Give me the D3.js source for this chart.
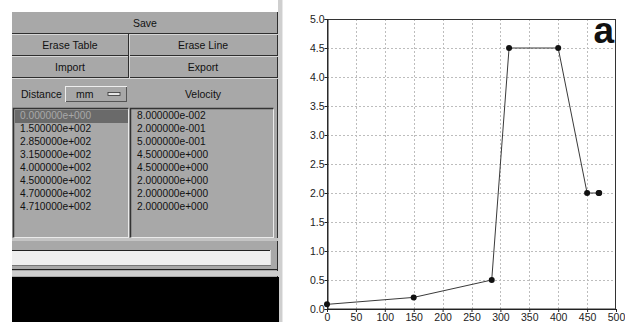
<!DOCTYPE html>
<html><head><meta charset="utf-8">
<script src="https://cdn.jsdelivr.net/npm/d3@7"></script>
<style>
html,body{margin:0;padding:0;background:#fff;}
svg{display:block;}
text{font-family:"Liberation Sans",Arial,sans-serif;}
</style></head>
<body>
<svg id="c" width="625" height="322"></svg>
<script>
// ---- data ----
const distance = [0, 150, 285, 315, 400, 450, 470, 471];
const velocity = [0.08, 0.2, 0.5, 4.5, 4.5, 2.0, 2.0, 2.0];
const xTicks = [0, 50, 100, 150, 200, 250, 300, 350, 400, 450, 500];
const yTicks = [0, 0.5, 1.0, 1.5, 2.0, 2.5, 3.0, 3.5, 4.0, 4.5, 5.0];
const buttonRows = [["Save"], ["Erase Table", "Erase Line"], ["Import", "Export"]];
const unitLabel = "mm";
const panelLabel = "a";

const svg = d3.select("#c");

// ---- left GUI panel ----
const gray = "#a8a8a8", dark = "#2e2e2e";
const P = {x0: 12, x1: 278, mid: 128};
const g = svg.append("g");
g.append("rect").attr("x", P.x0).attr("y", 12).attr("width", P.x1 - P.x0).attr("height", 265).attr("fill", gray);
g.append("rect").attr("x", P.x1).attr("y", 0).attr("width", 5).attr("height", 322).attr("fill", "#cfcfcf");
g.append("line").attr("x1", P.x1 - 0.5).attr("x2", P.x1 - 0.5).attr("y1", 12).attr("y2", 322).attr("stroke", dark);
g.append("line").attr("x1", P.x1 + 4.5).attr("x2", P.x1 + 4.5).attr("y1", 0).attr("y2", 322).attr("stroke", "#e8e8e8");

const btnFont = 10.5;
const rowY = [12, 34, 56, 78];
buttonRows.forEach((row, i) => {
  const y0 = rowY[i], y1 = rowY[i + 1];
  g.append("line").attr("x1", P.x0).attr("x2", P.x1).attr("y1", y1 - 0.5).attr("y2", y1 - 0.5).attr("stroke", dark);
  g.append("line").attr("x1", P.x0).attr("x2", P.x1).attr("y1", y1 + 0.5).attr("y2", y1 + 0.5).attr("stroke", "#d6d6d6");
  if (row.length === 1) {
    g.append("text").attr("x", (P.x0 + P.x1) / 2).attr("y", (y0 + y1) / 2 + 4).attr("text-anchor", "middle")
      .attr("font-size", btnFont).attr("fill", "#111").text(row[0]);
  } else {
    g.append("line").attr("x1", P.mid + 0.5).attr("x2", P.mid + 0.5).attr("y1", y0).attr("y2", y1).attr("stroke", dark);
    g.append("line").attr("x1", P.mid + 1.5).attr("x2", P.mid + 1.5).attr("y1", y0).attr("y2", y1).attr("stroke", "#d6d6d6");
    g.append("text").attr("x", (P.x0 + P.mid) / 2).attr("y", (y0 + y1) / 2 + 4).attr("text-anchor", "middle")
      .attr("font-size", btnFont).attr("fill", "#111").text(row[0]);
    g.append("text").attr("x", (P.mid + P.x1) / 2).attr("y", (y0 + y1) / 2 + 4).attr("text-anchor", "middle")
      .attr("font-size", btnFont).attr("fill", "#111").text(row[1]);
  }
});
// header row
g.append("text").attr("x", 21).attr("y", 98).attr("font-size", btnFont).attr("fill", "#111").text("Distance");
g.append("rect").attr("x", 65.5).attr("y", 86.5).attr("width", 61).attr("height", 15).attr("fill", gray)
  .attr("stroke", "#eee");
g.append("line").attr("x1", 66).attr("x2", 126).attr("y1", 101.5).attr("y2", 101.5).attr("stroke", "#555");
g.append("line").attr("x1", 126.5).attr("x2", 126.5).attr("y1", 87).attr("y2", 102).attr("stroke", "#555");
g.append("text").attr("x", 76).attr("y", 98).attr("font-size", btnFont).attr("fill", "#111").text(unitLabel);
g.append("rect").attr("x", 108).attr("y", 92.5).attr("width", 12).attr("height", 3).attr("fill", "#e6e6e6").attr("stroke", "#333").attr("stroke-width", 0.8);
g.append("text").attr("x", 203).attr("y", 98).attr("text-anchor", "middle").attr("font-size", btnFont).attr("fill", "#111").text("Velocity");

// list boxes
const lists = [{x: 13, w: 115, vals: distance}, {x: 130, w: 143, vals: velocity}];
const fmt = v => {
  const [m, e] = v.toExponential(6).split("e");
  const s = e[0] === "-" ? "-" : "+";
  return m + "e" + s + String(Math.abs(+e)).padStart(3, "0");
};
const rowScale = d3.scaleLinear().domain([0, 1]).range([119, 132]);
lists.forEach((L, li) => {
  g.append("rect").attr("x", L.x + 0.5).attr("y", 108.5).attr("width", L.w).attr("height", 129).attr("fill", gray)
    .attr("stroke", "#eaeaea").attr("stroke-width", 1);
  g.append("path").attr("d", `M${L.x + 0.5},${237.5}V${108.5}H${L.x + L.w + 0.5}`).attr("fill", "none").attr("stroke", "#333").attr("stroke-width", 1.5);
  if (li === 0) {
    g.append("rect").attr("x", L.x + 2).attr("y", 110).attr("width", L.w - 2).attr("height", 13).attr("fill", "#6a6a6a");
  }
  L.vals.forEach((v, i) => {
    g.append("text").attr("x", L.x + 7).attr("y", rowScale(i)).attr("font-size", 10.2)
      .attr("fill", li === 0 && i === 0 ? "#a8a8a8" : "#111").text(fmt(v));
  });
});
// bottom input area
g.append("rect").attr("x", P.x0).attr("y", 238).attr("width", P.x1 - P.x0).attr("height", 3).attr("fill", "#c4c4c4");
g.append("line").attr("x1", P.x0).attr("x2", 271).attr("y1", 250.5).attr("y2", 250.5).attr("stroke", "#222");
g.append("rect").attr("x", P.x0).attr("y", 251).attr("width", 258).attr("height", 14).attr("fill", "#efefef");
g.append("line").attr("x1", 270.5).attr("x2", 270.5).attr("y1", 250).attr("y2", 266).attr("stroke", "#ddd");
g.append("line").attr("x1", P.x0).attr("x2", 271).attr("y1", 265.5).attr("y2", 265.5).attr("stroke", "#777");
g.append("line").attr("x1", P.x0).attr("x2", P.x1).attr("y1", 269.5).attr("y2", 269.5).attr("stroke", "#222");
g.append("rect").attr("x", P.x0).attr("y", 271).attr("width", P.x1 - P.x0).attr("height", 5).attr("fill", "#cdcdcd");
g.append("rect").attr("x", P.x0).attr("y", 277).attr("width", P.x1 - P.x0 + 1).attr("height", 45).attr("fill", "#000");

// ---- chart ----
const x = d3.scaleLinear().domain([0, 500]).range([327, 616]);
const y = d3.scaleLinear().domain([0, 5]).range([309, 19]);
const c = svg.append("g");
c.selectAll(".gx").data(xTicks.slice(1, -1)).join("line")
  .attr("x1", d => Math.round(x(d)) + 0.5).attr("x2", d => Math.round(x(d)) + 0.5)
  .attr("y1", 19).attr("y2", 309).attr("stroke", "#bdbdbd").attr("stroke-dasharray", "2,2");
c.selectAll(".gy").data(yTicks.slice(1, -1)).join("line")
  .attr("y1", d => Math.round(y(d)) + 0.5).attr("y2", d => Math.round(y(d)) + 0.5)
  .attr("x1", 327).attr("x2", 616).attr("stroke", "#bdbdbd").attr("stroke-dasharray", "2,2");
c.append("rect").attr("x", 327.5).attr("y", 19.5).attr("width", 288).attr("height", 289.5)
  .attr("fill", "none").attr("stroke", "#333");
const ax = d3.axisBottom(x).tickValues(xTicks).tickSize(3).tickFormat(d3.format("d"));
const ay = d3.axisLeft(y).tickValues(yTicks).tickSize(3).tickFormat(d3.format(".1f"));
const gxA = c.append("g").attr("transform", "translate(0,309)").call(ax);
const gyA = c.append("g").attr("transform", "translate(327.5,0)").call(ay);
[gxA, gyA].forEach(a => {
  a.select(".domain").attr("stroke", "#222");
  a.selectAll(".tick line").attr("stroke", "#222");
  a.selectAll("text").attr("font-size", 10.5).attr("fill", "#222").attr("font-family", "Liberation Sans, Arial, sans-serif");
});
gxA.selectAll("text").attr("dy", "0.71em").attr("y", 5);
gyA.selectAll("text").attr("x", -3).attr("dy", "0.34em");
const pts = distance.map((d, i) => [d, velocity[i]]);
c.append("path").datum(pts).attr("fill", "none").attr("stroke", "#3a3a3a").attr("stroke-width", 1)
  .attr("d", d3.line().x(d => x(d[0])).y(d => y(d[1])));
c.selectAll(".pt").data(pts).join("circle")
  .attr("cx", d => x(d[0])).attr("cy", d => y(d[1])).attr("r", 3).attr("fill", "#111");
c.append("text").attr("x", 614).attr("y", 43).attr("text-anchor", "end").attr("font-size", 37)
  .attr("font-weight", "bold").attr("fill", "#111").text(panelLabel);
</script>
</body></html>
